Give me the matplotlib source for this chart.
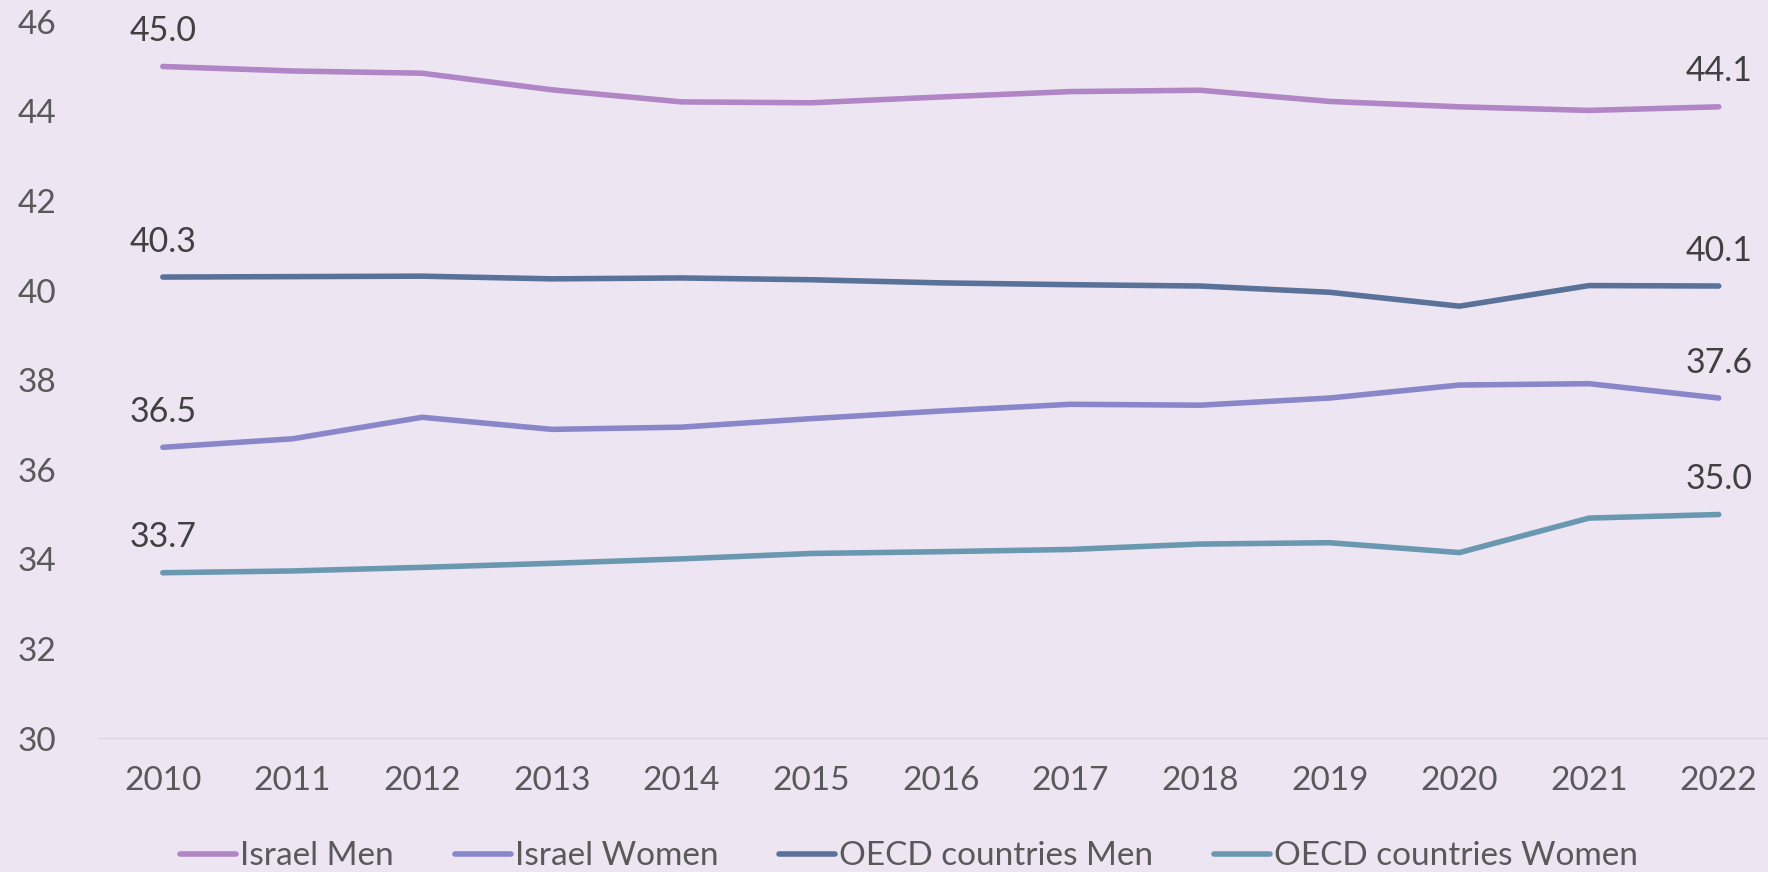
import matplotlib
matplotlib.use("Agg")
import matplotlib.pyplot as plt

plt.rcParams['font.family'] = ['Lato', 'DejaVu Sans']

years = ["2010", "2011", "2012", "2013", "2014", "2015", "2016",
         "2017", "2018", "2019", "2020", "2021", "2022"]
israel_men = [45.0, 44.90, 44.85, 44.48, 44.21, 44.19, 44.32,
              44.44, 44.47, 44.22, 44.10, 44.02, 44.1]
israel_women = [36.5, 36.69, 37.17, 36.90, 36.95, 37.14, 37.31,
                37.46, 37.44, 37.60, 37.89, 37.92, 37.6]
oecd_men = [40.3, 40.31, 40.32, 40.26, 40.28, 40.24, 40.17,
            40.13, 40.10, 39.96, 39.65, 40.11, 40.1]
oecd_women = [33.7, 33.74, 33.82, 33.91, 34.01, 34.13, 34.17,
              34.22, 34.34, 34.37, 34.15, 34.92, 35.0]
series_names = ["Israel Men", "Israel Women", "OECD countries Men", "OECD countries Women"]
series_values = [israel_men, israel_women, oecd_men, oecd_women]
colors = ["#B086C6", "#8A86CA", "#5A7299", "#6A98B0"]

bg = "#EDE6F2"
W, H = 1768, 872
fig = plt.figure(figsize=(W / 100, H / 100), dpi=100, facecolor=bg)
ax = fig.add_axes([98 / W, 1 - 738.5 / H, (W - 98) / W, (738.5 - 21.7) / H])
ax.set_facecolor(bg)

x = list(range(len(years)))
for name, vals, c in zip(series_names, series_values, colors):
    ax.plot(x, vals, color=c, lw=4.0, solid_capstyle='round',
            solid_joinstyle='round', label=name)
    for i in (0, len(vals) - 1):
        ax.annotate(f"{vals[i]:.1f}", (x[i], vals[i]), xytext=(0, 25.5),
                    textcoords='offset points', ha='center', va='center',
                    fontsize=24.5, color='#404040', clip_on=False)

ax.set_xlim(-0.5, 12.38)
ax.set_ylim(30, 46)
ax.set_yticks(range(30, 47, 2))
ax.set_xticks(x)
ax.set_xticklabels(years)
for s in ax.spines.values():
    s.set_visible(False)
ax.axhline(30, color='#D9D4DC', lw=1.5, zorder=0)
ax.tick_params(axis='both', length=0, labelsize=24, labelcolor='#595959')
ax.tick_params(axis='x', pad=20)
ax.tick_params(axis='y', pad=30)

leg = fig.legend(loc='center', bbox_to_anchor=(909 / W, 0.018), ncol=4,
                 frameon=False, fontsize=24, handlelength=1.68,
                 handletextpad=0.12, columnspacing=1.83, borderpad=0,
                 borderaxespad=0)
for t in leg.get_texts():
    t.set_color('#595959')

fig.savefig("out.png", dpi=100, facecolor=bg)
